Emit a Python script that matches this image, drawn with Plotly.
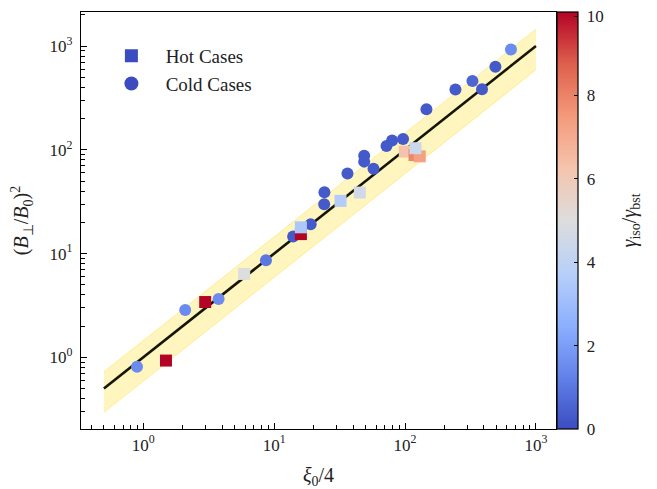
import plotly.graph_objects as go

# ---- data ----
hot_x = [1.49, 2.97, 5.9, 16.0, 16.0, 32.1, 45.1, 99.5, 118.0, 129.5, 120.0]
hot_y = [0.93, 3.41, 6.36, 15.4, 17.9, 32.2, 38.7, 96.2, 89.0, 86.5, 103.6]
hot_c = [10.0, 10.0, 5.0, 10.0, 3.4, 3.6, 4.6, 6.3, 7.9, 7.3, 4.4]

cold_x = [0.895, 2.09, 3.76, 8.65, 13.96, 19.0, 24.1, 24.2, 36.3, 48.7, 48.7,
          57.4, 72.1, 79.6, 96.5, 145.6, 242.5, 327.0, 387.0, 490.0, 644.0]
cold_y = [0.81, 2.86, 3.65, 8.6, 14.6, 19.2, 29.9, 39.0, 59.0, 87.4, 76.9,
          65.5, 109.0, 122.7, 127.0, 246.0, 381.0, 461.0, 384.0, 630.0, 925.0]
cold_c = [1.5, 1.5, 1.5, 1.0, 0.3, 0.3, 0.3, 0.3, 0.3, 0.3, 0.3,
          0.3, 0.3, 0.3, 0.3, 0.3, 0.3, 0.6, 0.3, 0.3, 1.5]

fit_x = [0.5, 1000.0]
band_hi = 1.45
band_lo = 0.59

x_major = [1, 10, 100, 1000]
x_major_text = ["10<sup>0</sup>", "10<sup>1</sup>", "10<sup>2</sup>", "10<sup>3</sup>"]
y_major = [1, 10, 100, 1000]
y_major_text = ["10<sup>0</sup>", "10<sup>1</sup>", "10<sup>2</sup>", "10<sup>3</sup>"]
cbar_ticks = [0, 2, 4, 6, 8, 9.9]
cbar_text = ["\u00a00", "\u00a02", "\u00a04", "\u00a06", "\u00a08", "\u00a010"]

coolwarm = [
    [0.0, "rgb(59,76,192)"], [0.125, "rgb(98,130,234)"], [0.25, "rgb(141,176,254)"],
    [0.375, "rgb(184,208,249)"], [0.5, "rgb(221,221,221)"], [0.625, "rgb(245,196,173)"],
    [0.75, "rgb(244,154,123)"], [0.875, "rgb(222,96,77)"], [1.0, "rgb(180,4,38)"],
]

minor_vals = []
for d in [0.1, 1, 10, 100, 1000]:
    for k in range(2, 10):
        minor_vals.append(d * k)

FONT = "Liberation Serif"
fig = go.Figure()

# band
fig.add_trace(go.Scatter(x=fit_x, y=[v * band_lo for v in fit_x], mode="lines",
                         line=dict(color="rgba(255,215,0,0.35)", width=1),
                         showlegend=False, hoverinfo="skip"))
fig.add_trace(go.Scatter(x=fit_x, y=[v * band_hi for v in fit_x], mode="lines",
                         line=dict(color="rgba(255,215,0,0.35)", width=1),
                         fill="tonexty", fillcolor="rgba(255,215,0,0.25)",
                         showlegend=False, hoverinfo="skip"))
# fit line
fig.add_trace(go.Scatter(x=fit_x, y=fit_x, mode="lines",
                         line=dict(color="#151505", width=2.6),
                         showlegend=False, hoverinfo="skip"))

fig.add_trace(go.Scatter(x=cold_x, y=cold_y, mode="markers", showlegend=False,
                         marker=dict(symbol="circle", size=12, color=cold_c,
                                     coloraxis="coloraxis", line=dict(width=0))))
fig.add_trace(go.Scatter(x=hot_x, y=hot_y, mode="markers", showlegend=False,
                         marker=dict(symbol="square", size=12, color=hot_c,
                                     coloraxis="coloraxis", line=dict(width=0))))

# legend entries
fig.add_trace(go.Scatter(x=[None], y=[None], mode="markers", name="\u00a0\u00a0\u00a0Hot Cases",
                         legendgroup="a",
                         marker=dict(symbol="square", size=13, color="rgb(59,76,192)")))
fig.add_trace(go.Scatter(x=[None], y=[None], mode="markers", name="\u00a0\u00a0\u00a0Cold Cases",
                         legendgroup="b",
                         marker=dict(symbol="circle", size=14, color="rgb(59,76,192)")))

axis_common = dict(type="log", showgrid=False, zeroline=False, automargin=False,
                   showline=True, linecolor="black", linewidth=1.2, mirror=True,
                   ticks="inside", ticklen=6, tickwidth=1, tickcolor="black",
                   tickfont=dict(family=FONT, size=17, color="#222"))

fig.update_xaxes(**axis_common, range=[-0.476, 3.153], tickvals=x_major, ticktext=x_major_text,
                 minor=dict(tickvals=minor_vals, ticks="inside", ticklen=3.5, tickcolor="black"),
                 title=dict(text="<i>ξ</i><sub>0</sub>/4", font=dict(family=FONT, size=20, color="#222"),
                            standoff=16))
fig.update_yaxes(**axis_common, range=[-0.691, 3.328], tickvals=y_major, ticktext=y_major_text,
                 ticklabelstandoff=4,
                 minor=dict(tickvals=minor_vals, ticks="inside", ticklen=3.5, tickcolor="black"),
                 title=dict(text="(<i>B</i><sub>⊥</sub>/<i>B</i><sub>0</sub>)<sup>2</sup>",
                            font=dict(family=FONT, size=20, color="#222"), standoff=15))

fig.add_annotation(xref="paper", yref="paper", x=(630 - 81) / 475, y=0.5,
                   text="<i>γ</i><sub>iso</sub>/<i>γ</i><sub>bst</sub>", textangle=-90,
                   showarrow=False, xanchor="center", yanchor="middle",
                   font=dict(family=FONT, size=20, color="#222"))

fig.update_layout(
    width=649, height=481,
    margin=dict(l=73, r=101, t=4, b=60, autoexpand=False),
    paper_bgcolor="white", plot_bgcolor="white",
    font=dict(family=FONT, color="#222"),
    coloraxis=dict(cmin=0, cmax=10, colorscale=coolwarm,
                   colorbar=dict(x=1.0, xanchor="left", xpad=1, y=0.5, yanchor="middle",
                                 len=1, lenmode="fraction", thickness=21, ypad=0,
                                 outlinewidth=1.2, outlinecolor="black",
                                 tickmode="array", tickvals=cbar_ticks, ticktext=cbar_text,
                                 ticklabeloverflow="allow",
                                 ticks="inside", ticklen=4, tickcolor="black",
                                 tickfont=dict(family=FONT, size=17, color="#222"))),
    legend=dict(x=0.064, y=0.94, xanchor="left", yanchor="top", bgcolor="rgba(0,0,0,0)",
                font=dict(family=FONT, size=19, color="#222"),
                traceorder="grouped", tracegroupgap=0),
)

fig.write_html("out.html")
